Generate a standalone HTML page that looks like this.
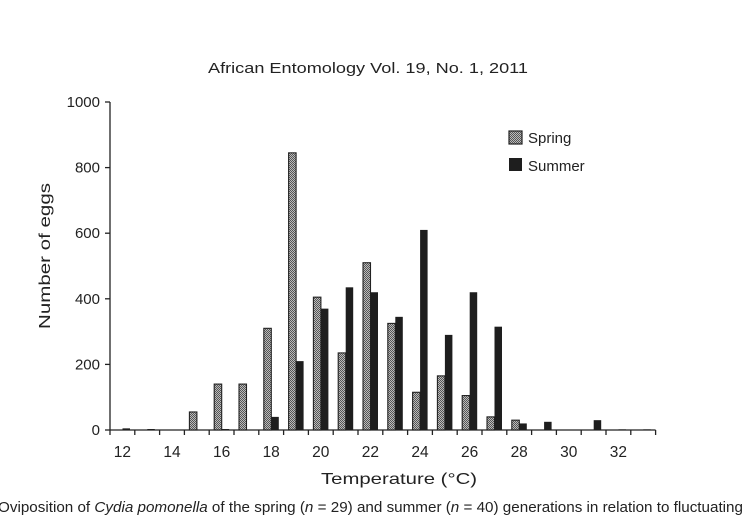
<!DOCTYPE html>
<html><head><meta charset="utf-8"><style>
body{margin:0;background:#fff;width:747px;height:524px;overflow:hidden;font-family:"Liberation Sans",sans-serif;}
</style></head><body>
<svg width="747" height="524" font-family="Liberation Sans, sans-serif" fill="#222">
<defs><pattern id="chk" width="2" height="2" patternUnits="userSpaceOnUse"><rect width="2" height="2" fill="#bbb"/><rect width="1" height="1" fill="#555"/><rect x="1" y="1" width="1" height="1" fill="#555"/></pattern></defs>
<text x="208" y="73" font-size="15" textLength="320" lengthAdjust="spacingAndGlyphs">African Entomology Vol. 19, No. 1, 2011</text>
<g id="axes"></g>
<g id="bars"></g>
<text x="50" y="256" transform="rotate(-90 50 256)" text-anchor="middle" font-size="16" textLength="146" lengthAdjust="spacingAndGlyphs">Number of eggs</text>
<text x="321" y="484" font-size="16" textLength="156" lengthAdjust="spacingAndGlyphs">Temperature (°C)</text>
<g>
<rect x="509" y="131" width="13" height="13" fill="url(#chk)" stroke="#222" stroke-width="1.2"/>
<text x="528" y="143" font-size="15">Spring</text>
<rect x="509" y="158" width="13" height="13" fill="#1e1e1e"/>
<text x="528" y="171" font-size="15">Summer</text>
</g>
<text x="-2" y="512" font-size="14.5" textLength="745" lengthAdjust="spacingAndGlyphs">Oviposition of <tspan font-style="italic">Cydia pomonella</tspan> of the spring (<tspan font-style="italic">n</tspan> = 29) and summer (<tspan font-style="italic">n</tspan> = 40) generations in relation to fluctuating</text>
</svg>
<script>
const categories=[12,13,14,15,16,17,18,19,20,21,22,23,24,25,26,27,28,29,30,31,32,33];
const spring=[0,0,0,55,140,140,310,845,405,235,510,325,115,165,105,40,30,0,0,0,0,0];
const summer=[5,3,0,0,3,0,40,210,370,435,420,345,610,290,420,315,20,25,0,30,2,2];
const yTicks=[0,200,400,600,800,1000];
const xLabels=[12,14,16,18,20,22,24,26,28,30,32];
const NS='http://www.w3.org/2000/svg';
const x0=110,cw=24.8,yb=430,yt=102,ymax=1000;
const y=v=>yb-(v/ymax)*(yb-yt);
const xc=i=>x0+i*cw;
function mk(t,a,p){const e=document.createElementNS(NS,t);for(const k in a)e.setAttribute(k,a[k]);p.appendChild(e);return e;}
const ax=document.getElementById('axes'),bg=document.getElementById('bars');
let e=mk('line',{x1:x0,y1:yt,x2:x0,y2:yb,stroke:'#222','stroke-width':1.3},ax);


e=mk('line',{x1:x0,y1:yb,x2:xc(categories.length),y2:yb,stroke:'#222','stroke-width':1.3},ax);


yTicks.forEach(v=>{
 mk('line',{x1:x0-5,y1:y(v),x2:x0,y2:y(v),stroke:'#222','stroke-width':1.3},ax);
 const t=mk('text',{x:x0-10,y:y(v)+5,'text-anchor':'end','font-size':15},ax);t.textContent=v;
 
 
});
for(let i=0;i<=categories.length;i++)mk('line',{x1:xc(i),y1:yb,x2:xc(i),y2:yb+5,stroke:'#222','stroke-width':1.3},ax);
xLabels.forEach(v=>{
 const i=categories.indexOf(v);
 const t=mk('text',{x:xc(i)+cw/2,y:yb+27,'text-anchor':'middle','font-size':15.5},ax);t.textContent=v;
 
 
});
categories.forEach((c,i)=>{
 const s=spring[i],m=summer[i];
 if(s>0){const r=mk('rect',{x:xc(i)+5,y:y(s),width:7.5,height:yb-y(s),fill:'url(#chk)',stroke:'#222','stroke-width':1.1},bg);
  
  }
 if(m>0){const r=mk('rect',{x:xc(i)+12.5,y:y(m),width:7.5,height:yb-y(m),fill:'#1e1e1e'},bg);
  
  }
});
</script>
</body></html>
